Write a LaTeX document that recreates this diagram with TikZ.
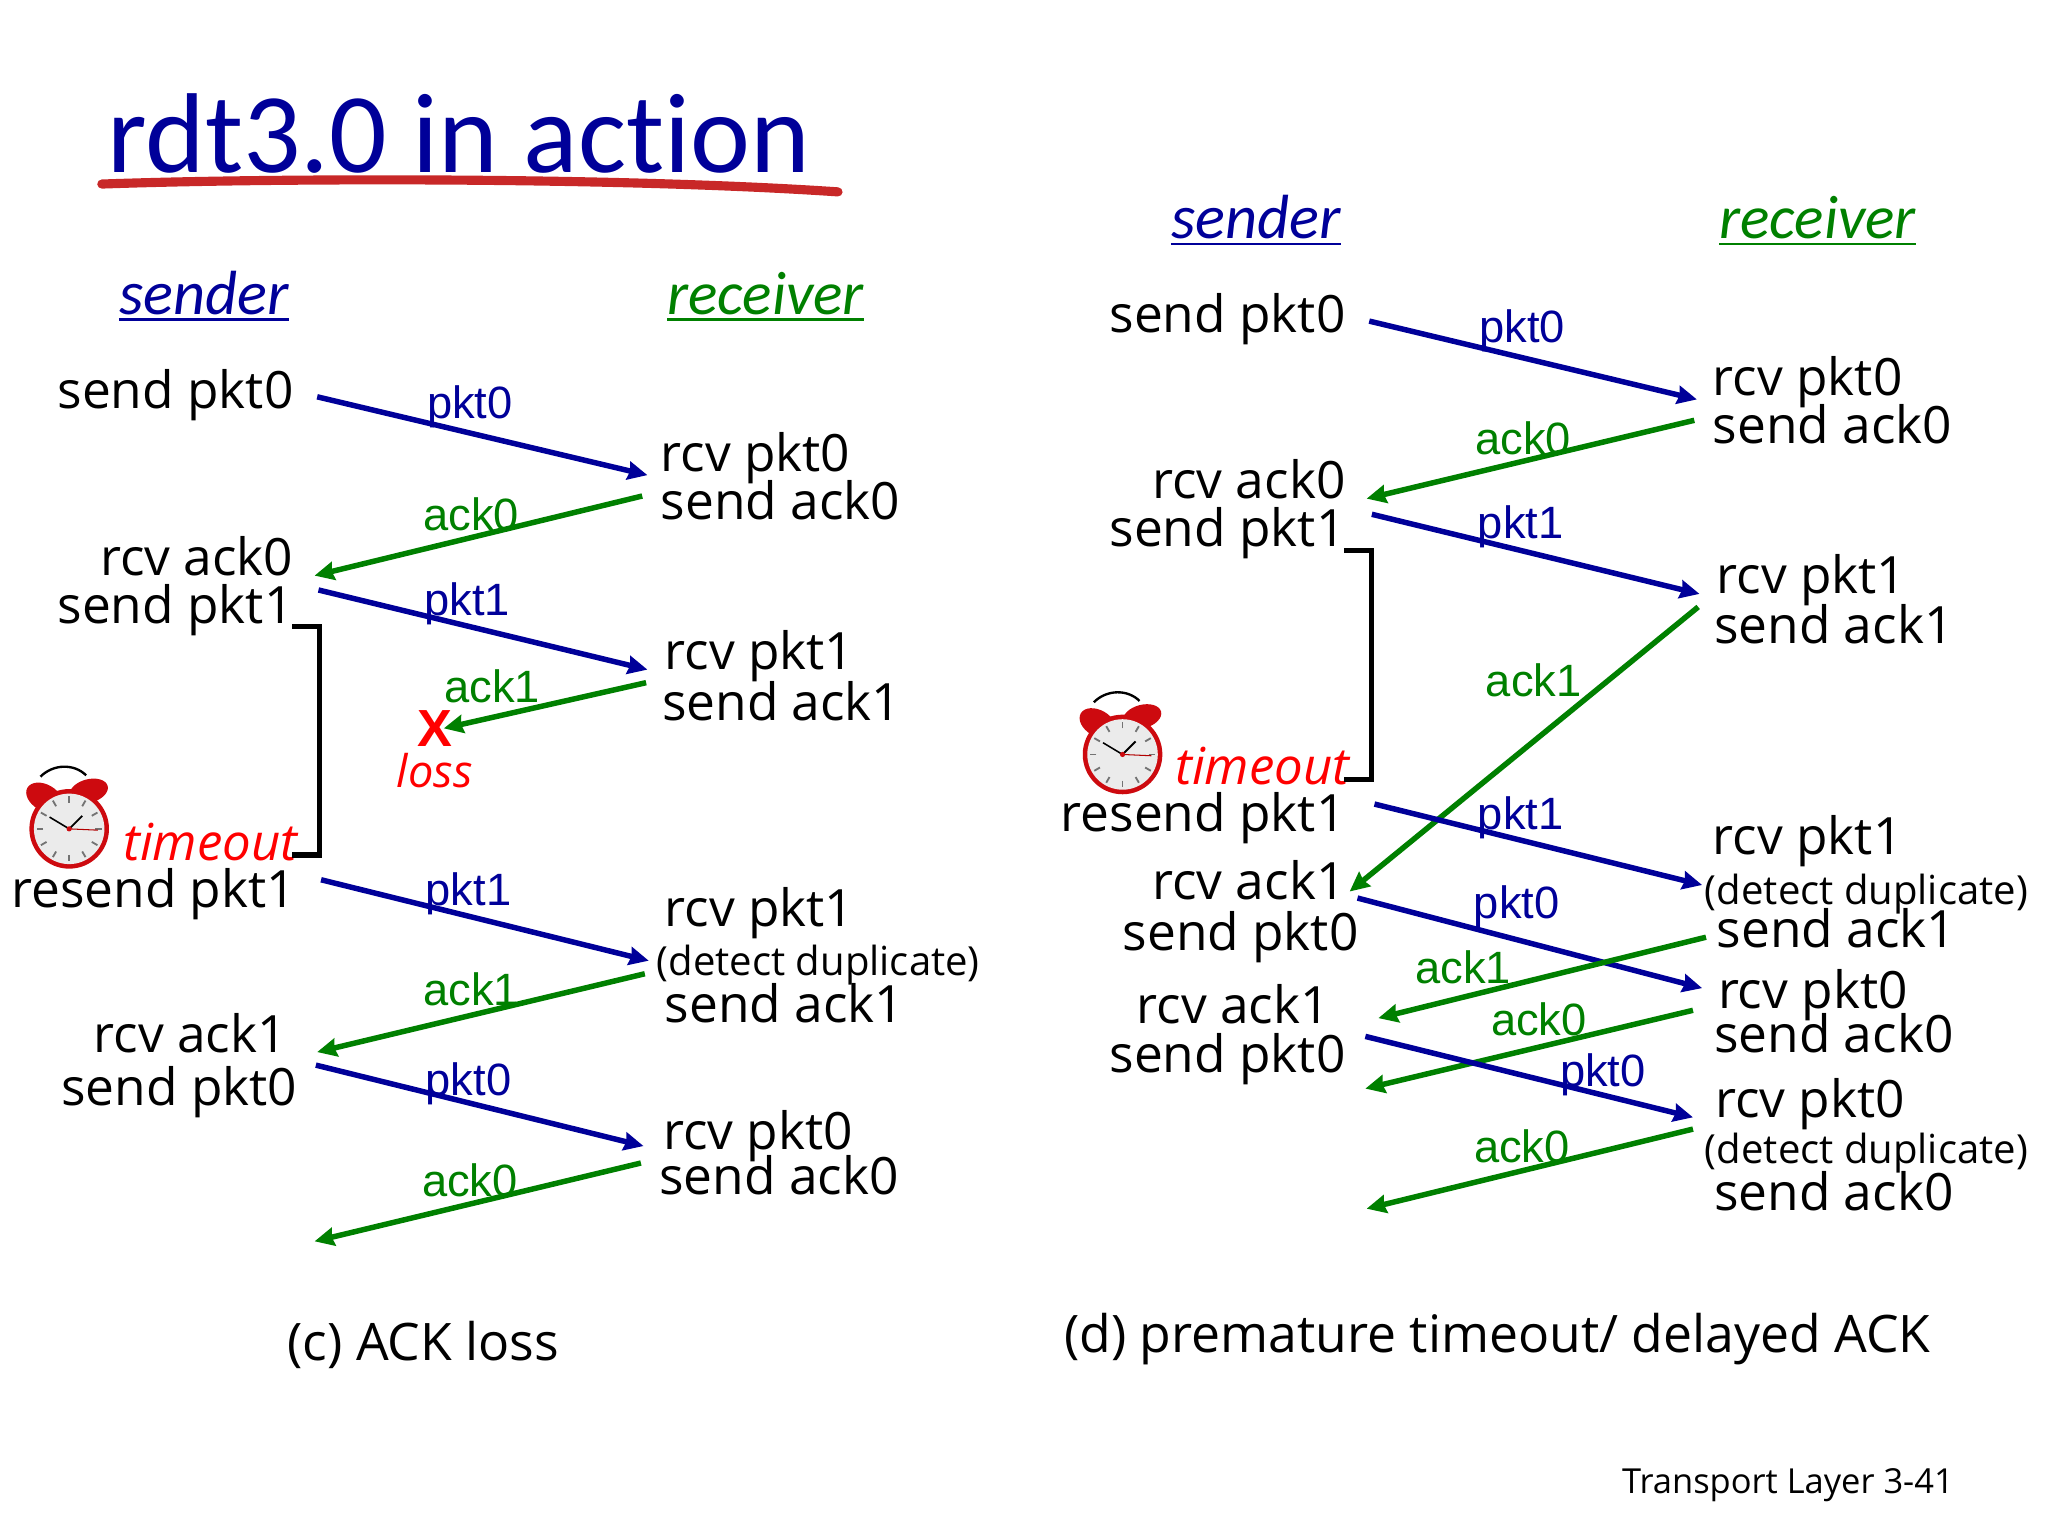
\documentclass[tikz,border=0pt]{standalone}
\usepackage{fontspec}
\usepackage{xcolor}
\usetikzlibrary{shapes,arrows,arrows.meta,positioning,calc}
\setmainfont{Open Sans}
\newfontfamily\arialfont{Liberation Sans}
\newfontfamily\gillfont[Ligatures=CommonOff]{Carlito}
\definecolor{pktblue}{RGB}{0,0,153}
\definecolor{ackgreen}{RGB}{0,128,0}
\definecolor{markred}{RGB}{200,40,40}
\definecolor{ringred}{RGB}{205,10,15}

\begin{document}
\begin{tikzpicture}[
    x=1pt, y=-1pt,
    sndline/.style={inner sep=0pt, anchor=base east, xshift=1pt, yshift=-1pt, font=\fontsize{39.4}{39}\selectfont},
    rcvline/.style={inner sep=0pt, anchor=base west, yshift=-1pt, font=\fontsize{39.4}{39}\selectfont},
    dupline/.style={inner sep=0pt, anchor=base west, yshift=-1pt, font=\fontsize{30.7}{30}\selectfont},
    capline/.style={inner sep=0pt, anchor=base west, yshift=-1.5pt, font=\fontsize{39.6}{39}\selectfont},
    senderhead/.style={inner sep=0pt, anchor=base west, text=pktblue, font=\gillfont\itshape\fontsize{47.8}{47}\selectfont},
    receiverhead/.style={inner sep=0pt, anchor=base west, text=ackgreen, font=\gillfont\itshape\fontsize{47}{47}\selectfont},
    pktlabel/.style={inner sep=0pt, anchor=base, xshift=1pt, yshift=-1.5pt, text=pktblue, font=\arialfont\fontsize{34.7}{34}\selectfont},
    acklabel/.style={inner sep=0pt, anchor=base, xshift=1pt, yshift=-1.5pt, text=ackgreen, font=\arialfont\fontsize{34.7}{34}\selectfont},
    timerlabel/.style={inner sep=0pt, anchor=base east, text=red, font=\itshape\fontsize{39}{39}\selectfont},
    pktarrow/.style={-{Stealth[length=15pt,width=14pt,inset=1.5pt]}, draw=pktblue, line width=4.2pt},
    ackarrow/.style={-{Stealth[length=15pt,width=14pt,inset=1.5pt]}, draw=ackgreen, line width=4.2pt},
    timerline/.style={draw=black, line width=4pt},
    alarm/.pic={
        \draw[black, line width=1.8pt] (-22,-40) .. controls (-12,-50) and (4,-50) .. (13,-41);
        \fill[ringred, rotate around={-30:(-19,-24)}] (-19,-24) ellipse [x radius=15, y radius=10];
        \fill[ringred, rotate around={15:(15,-29)}] (15,-29) ellipse [x radius=15, y radius=9];
        \fill[ringred] (0,0) circle [radius=30.5];
        \fill[white!92!black] (0,0) circle [radius=27];
        \foreach \a in {0,30,...,330} {
            \draw[black!55, line width=1.4pt] (\a:20) -- (\a:25);
        }
        \draw[black, line width=1.2pt] (0,0) -- (-15,-9);
        \draw[black, line width=1.4pt] (0,0) -- (10,-10);
        \draw[red!70!black, line width=0.8pt] (0,0) -- (22,1);
        \fill[ringred] (0,0) circle [radius=2];
    }
]
    \useasboundingbox (0,0) rectangle (1569,1177);

    % title
    \node[inner sep=0pt, anchor=base west, text=pktblue, font=\gillfont\fontsize{87}{87}\selectfont] (titleText) at (82,132) {rdt3.0 in action};
    \draw[markred, line width=7pt, line cap=round] ([shift={(-4,9)}]titleText.base west) .. controls (220,136) and (480,136) .. (642,147);

    % (c) ACK loss
    \node[senderhead] (senderL) at (91,241) {sender};
    \node[receiverhead] (receiverL) at (511,241) {receiver};
    \draw[pktblue, line width=2pt] ([shift={(0,4)}]senderL.base west) -- ([shift={(0,4)}]senderL.base east);
    \draw[ackgreen, line width=2pt] ([shift={(0,4)}]receiverL.base west) -- ([shift={(0,4)}]receiverL.base east);

    \node[sndline] (sendZeroL) at (224,312) {send pkt0};
    \node[sndline] (rcvAckZeroL) at (224,440) {rcv ack0};
    \node[sndline] (sendOneL) at (224,477) {send pkt1};
    \node[timerlabel] (timeoutL) at (228,659) {timeout};
    \node[sndline] (resendL) at (226,694) {resend pkt1};
    \node[sndline] (rcvAckOneL) at (219,805) {rcv ack1};
    \node[sndline] (sendLastL) at (227,846) {send pkt0};

    \node[rcvline] (rcvZeroL) at (506,360) {rcv pkt0};
    \node[rcvline] (ackZeroL) at (506,397) {send ack0};
    \node[rcvline] (rcvOneL) at (509,512) {rcv pkt1};
    \node[rcvline] (ackOneL) at (507,551) {send ack1};
    \node[rcvline] (rcvDupL) at (509,709) {rcv pkt1};
    \node[dupline] (dupL) at (503,746) {(detect duplicate)};
    \node[rcvline] (ackDupL) at (509,782) {send ack1};
    \node[rcvline] (rcvLastL) at (508,880) {rcv pkt0};
    \node[rcvline] (ackLastL) at (505,914) {send ack0};

    \node[inner sep=0pt, text=red, font=\arialfont\bfseries\fontsize{40}{40}\selectfont] (lossMark) at (333,558) {X};
    \node[inner sep=0pt, anchor=base, text=red, font=\itshape\fontsize{34.5}{34}\selectfont] (lossText) at (333,603) {loss};
    \pic at (53,635) {alarm};

    \node[pktlabel] (lblA) at (359,319) {pkt0};
    \node[acklabel] (lblB) at (360,405) {ack0};
    \node[pktlabel] (lblC) at (357,470) {pkt1};
    \node[acklabel] (lblD) at (376,537) {ack1};
    \node[pktlabel] (lblE) at (358,692) {pkt1};
    \node[acklabel] (lblF) at (360,769) {ack1};
    \node[pktlabel] (lblG) at (358,838) {pkt0};
    \node[acklabel] (lblH) at (359,915) {ack0};

    \coordinate (endL) at (241,951);

    \draw[pktarrow] ([shift={(18,-9)}]sendZeroL.base east) -- ([shift={(-10,3)}]rcvZeroL.base west);
    \draw[ackarrow] ([shift={(-14,-18)}]ackZeroL.base west) -- ([shift={(16,0)}]rcvAckZeroL.base east);
    \draw[pktarrow] ([shift={(19,-26)}]sendOneL.base east) -- ([shift={(-13,0)}]rcvOneL.base west);
    \draw[ackarrow] ([shift={(-12,-29)}]ackOneL.base west) -- ([shift={(7,0)}]lossMark.center);
    \draw[pktarrow] ([shift={(19,-21)}]resendL.base east) -- ([shift={(-6,-11)}]dupL.base west);
    \draw[ackarrow] ([shift={(-9,-1)}]dupL.base west) -- ([shift={(23,0)}]rcvAckOneL.base east);
    \draw[pktarrow] ([shift={(14,-31)}]sendLastL.base east) -- ([shift={(-15,-3)}]rcvLastL.base west);
    \draw[ackarrow] ([shift={(-14,-24)}]ackLastL.base west) -- (endL);
    \draw[timerline] ([shift={(-1,2)}]sendOneL.base east) -- ++(21,0) |- ([shift={(-4,-4)}]timeoutL.base east);

    \node[capline] (captionL) at (220,1041) {(c) ACK loss};

    % (d) premature timeout
    \node[senderhead] (senderR) at (897,183) {sender};
    \node[receiverhead] (receiverR) at (1317,183) {receiver};
    \draw[pktblue, line width=2pt] ([shift={(0,4)}]senderR.base west) -- ([shift={(0,4)}]senderR.base east);
    \draw[ackgreen, line width=2pt] ([shift={(0,4)}]receiverR.base west) -- ([shift={(0,4)}]receiverR.base east);

    \node[sndline] (sendZeroR) at (1030,254) {send pkt0};
    \node[sndline] (rcvAckZeroR) at (1030,381) {rcv ack0};
    \node[sndline] (sendOneR) at (1030,418) {send pkt1};
    \node[timerlabel] (timeoutR) at (1034,601) {timeout};
    \node[sndline] (resendR) at (1030,636) {resend pkt1};
    \node[sndline] (rcvAckOneR) at (1030,688) {rcv ack1};
    \node[sndline] (sendNextR) at (1040,727) {send pkt0};
    \node[sndline] (rcvAckDupR) at (1018,783) {rcv ack1};
    \node[sndline] (sendLastR) at (1030,821) {send pkt0};

    \node[rcvline] (rcvZeroR) at (1312,302) {rcv pkt0};
    \node[rcvline] (ackZeroR) at (1312,339) {send ack0};
    \node[rcvline] (rcvOneR) at (1315,454) {rcv pkt1};
    \node[rcvline] (ackOneR) at (1313,492) {send ack1};
    \node[rcvline] (rcvDupR) at (1312,654) {rcv pkt1};
    \node[dupline] (dupR) at (1306,692) {(detect duplicate)};
    \node[rcvline] (ackDupR) at (1315,725) {send ack1};
    \node[rcvline] (rcvNextR) at (1316,772) {rcv pkt0};
    \node[rcvline] (ackNextR) at (1313,805) {send ack0};
    \node[rcvline] (rcvLastR) at (1314,855) {rcv pkt0};
    \node[dupline] (dupLastR) at (1306,890) {(detect duplicate)};
    \node[rcvline] (ackLastR) at (1313,926) {send ack0};

    \pic at (860,578) {alarm};

    \node[pktlabel] (lblJ) at (1165,261) {pkt0};
    \node[acklabel] (lblK) at (1166,347) {ack0};
    \node[pktlabel] (lblL) at (1164,411) {pkt1};
    \node[acklabel] (lblM) at (1174,532) {ack1};
    \node[pktlabel] (lblN) at (1164,634) {pkt1};
    \node[pktlabel] (lblP) at (1161,702) {pkt0};
    \node[acklabel] (lblQ) at (1120,752) {ack1};
    \node[acklabel] (lblR) at (1178,792) {ack0};
    \node[pktlabel] (lblS) at (1227,831) {pkt0};
    \node[acklabel] (lblT) at (1165,889) {ack0};

    \coordinate (endR) at (1047,926);

    \draw[pktarrow] ([shift={(18,-9)}]sendZeroR.base east) -- ([shift={(-12,3)}]rcvZeroR.base west);
    \draw[ackarrow] ([shift={(-14,-18)}]ackZeroR.base west) -- ([shift={(16,0)}]rcvAckZeroR.base east);
    \draw[pktarrow] ([shift={(20,-25)}]sendOneR.base east) -- ([shift={(-13,0)}]rcvOneR.base west);
    \draw[ackarrow] ([shift={(-12,-28)}]ackOneR.base west) -- ([shift={(3,-6)}]rcvAckOneR.base east);
    \draw[pktarrow] ([shift={(22,-21)}]resendR.base east) -- ([shift={(-2,-15)}]dupR.base west);
    \draw[pktarrow] ([shift={(9,-1)}]rcvAckOneR.base east) -- ([shift={(-12,-16)}]rcvNextR.base west);
    \draw[ackarrow] ([shift={(-8,-8)}]ackDupR.base west) -- ([shift={(37,-4)}]rcvAckDupR.base east);
    \draw[ackarrow] ([shift={(-16,-32)}]ackNextR.base west) -- ([shift={(15,12)}]sendLastR.base east);
    \draw[pktarrow] ([shift={(15,-28)}]sendLastR.base east) -- ([shift={(-17,0)}]rcvLastR.base west);
    \draw[ackarrow] ([shift={(-9,-26)}]dupLastR.base west) -- (endR);
    \draw[timerline] ([shift={(-1,3)}]sendOneR.base east) -- ++(21,0) |- ([shift={(-4,-4)}]timeoutR.base east);

    \node[capline] (captionR) at (815,1035) {(d) premature timeout/ delayed ACK};

    \node[inner sep=0pt, anchor=base east, font=\fontsize{26.4}{26}\selectfont] (footerText) at (1497,1144) {Transport Layer 3-41};
\end{tikzpicture}
\end{document}
